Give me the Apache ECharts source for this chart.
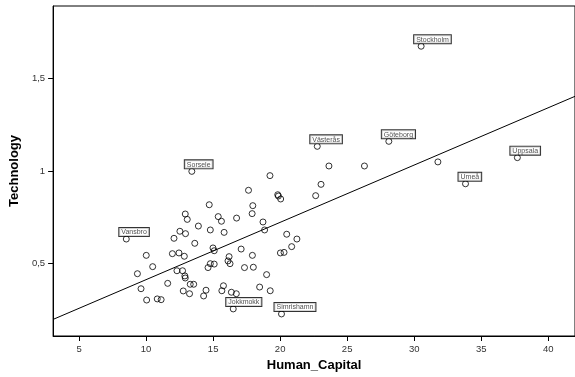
<!DOCTYPE html>
<html>
<head>
<meta charset="utf-8">
<script src="https://cdn.jsdelivr.net/npm/echarts@6/dist/echarts.min.js"></script>
<style>
    html, body { margin: 0; padding: 0; background: #fff; }
    #chart { width: 575px; height: 377px; }
</style>
</head>
<body>
<div id="chart"></div>
<script>
// unlabeled points (Human_Capital, Technology)
var hcX = [12.92, 13.07, 12.52, 12.94, 12.08, 13.63, 13.9, 10.01, 11.96, 12.45, 12.85, 9.35, 10.49,
    12.30, 12.72, 12.89, 12.92, 11.61, 9.62, 12.77, 13.24, 13.29, 13.55, 10.04, 10.83, 11.12,
    23.05, 19.82, 19.87, 20.04, 22.65, 17.64, 14.71, 17.96, 17.91, 15.38, 15.62, 16.75, 18.72,
    14.79, 15.82, 18.84, 20.49, 21.25, 20.86, 17.09, 14.99, 15.08, 20.02, 20.29, 17.93, 16.19,
    16.11, 16.26, 14.79, 15.08, 14.62, 17.34, 18.0, 18.99, 14.47, 14.29, 15.77, 15.65, 16.36,
    16.73, 18.47, 19.26, 23.64, 26.29, 19.24, 31.77];
var techY = [0.768, 0.739, 0.675, 0.662, 0.637, 0.610, 0.703, 0.545, 0.554, 0.558, 0.540, 0.446, 0.484,
    0.462, 0.462, 0.434, 0.423, 0.394, 0.365, 0.353, 0.338, 0.389, 0.389, 0.304, 0.310, 0.306,
    0.928, 0.872, 0.865, 0.849, 0.867, 0.896, 0.818, 0.813, 0.770, 0.754, 0.729, 0.746, 0.725,
    0.682, 0.669, 0.682, 0.659, 0.633, 0.592, 0.579, 0.585, 0.570, 0.558, 0.561, 0.545, 0.538,
    0.515, 0.500, 0.500, 0.498, 0.479, 0.479, 0.481, 0.441, 0.357, 0.326, 0.381, 0.354, 0.346,
    0.338, 0.374, 0.354, 1.027, 1.027, 0.975, 1.049];

// labeled municipalities
var cityNames = ['Stockholm', 'Göteborg', 'Västerås', 'Uppsala', 'Umeå', 'Sorsele', 'Vansbro', 'Jokkmokk', 'Simrishamn'];
var cityX = [30.52, 28.11, 22.77, 37.7, 33.83, 13.41, 8.52, 16.5, 20.1];
var cityY = [1.673, 1.160, 1.133, 1.072, 0.931, 0.998, 0.633, 0.256, 0.229];

// linear fit line
var fitIntercept = 0.105;
var fitSlope = 0.0309;

var xTicks = [5, 10, 15, 20, 25, 30, 35, 40];
var yTicks = [0.5, 1, 1.5];

var xMin = 3.06, xMax = 42.0;
var yMin = 0.11, yMax = 1.89;

var chart = echarts.init(document.getElementById('chart'));

var points = [];
hcX.forEach(function(x, i) {
    points.push({ value: [x, techY[i]] });
});
cityNames.forEach(function(name, i) {
    points.push({ name: name, value: [cityX[i], cityY[i]], label: { show: true } });
});

var fitLine = [
    [xMin, fitIntercept + fitSlope * xMin],
    [xMax, fitIntercept + fitSlope * xMax]
];

var font = 'Liberation Sans';

var option = {
    backgroundColor: '#fff',
    animation: false,
    grid: {
        left: 52,
        top: 6,
        width: 528,
        height: 330,
        show: true,
        borderColor: '#000',
        borderWidth: 1
    },
    xAxis: {
        type: 'value',
        min: xMin,
        max: xMax,
        name: 'Human_Capital',
        nameLocation: 'middle',
        nameGap: 23,
        nameTextStyle: { fontFamily: font, fontWeight: 'bold', fontSize: 13, color: '#000' },
        axisLine: { lineStyle: { color: '#000', width: 1 } },
        axisTick: { length: 5, customValues: xTicks, lineStyle: { color: '#000' } },
        axisLabel: { customValues: xTicks, margin: 8, fontFamily: font, fontSize: 9.5, color: '#333' },
        splitLine: { show: false }
    },
    yAxis: {
        type: 'value',
        min: yMin,
        max: yMax,
        name: 'Technology',
        nameLocation: 'middle',
        nameGap: 27,
        nameTextStyle: { fontFamily: font, fontWeight: 'bold', fontSize: 13, color: '#000' },
        axisLine: { show: true, lineStyle: { color: '#000', width: 1 } },
        axisTick: { show: true, length: 5, customValues: yTicks, lineStyle: { color: '#000' } },
        axisLabel: {
            customValues: yTicks,
            margin: 8,
            fontFamily: font,
            fontSize: 9.5,
            color: '#333',
            formatter: function(v) { return String(v).replace('.', ','); }
        },
        splitLine: { show: false }
    },
    series: [
        {
            type: 'line',
            data: fitLine,
            symbol: 'none',
            silent: true,
            lineStyle: { color: '#000', width: 1 },
            z: 1
        },
        {
            type: 'scatter',
            data: points,
            symbol: 'circle',
            symbolSize: 6,
            itemStyle: { color: 'rgba(0,0,0,0)', borderColor: '#000', borderWidth: 1 },
            label: {
                show: false,
                formatter: '{b}',
                position: [-3.5, 0.5],
                align: 'left',
                verticalAlign: 'bottom',
                fontFamily: font,
                fontSize: 7,
                color: '#222',
                backgroundColor: '#fff',
                borderColor: '#000',
                borderWidth: 1,
                padding: [1, 2, 0, 2]
            },
            z: 2
        }
    ]
};

chart.setOption(option);
</script>
</body>
</html>
